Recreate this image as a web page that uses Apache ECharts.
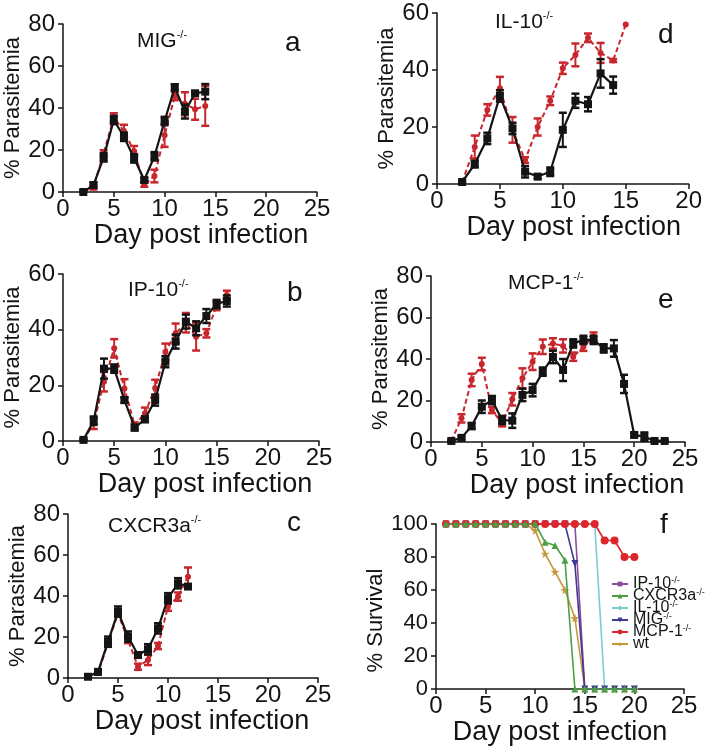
<!DOCTYPE html>
<html><head><meta charset="utf-8">
<script src="https://cdn.jsdelivr.net/npm/echarts@6/dist/echarts.min.js"></script>
<style>html,body{margin:0;padding:0;background:#fff}#c{width:705px;height:750px}</style>
</head><body><div id="c"></div>
<script>
// ---------- DATA ----------
// Panel a: MIG-/-
var aDaysKO = [2,3,4,5,6,7,8,9,10,11,12,13,14];
var aKO     = [0,3.3,16.5,34.3,26.3,16,5.7,17,33.8,49.8,38.3,47,47.8];
var aKOerr  = [0.5,1.2,2,2,2,2,1,2,2,1.5,3.3,1,3.6];
var aDaysWT = [2,3,4,5,6,7,8,9,10,11,12,13,14];
var aWT     = [0,2.2,18.4,35.5,29,19.4,3.5,7.6,27,45.7,42,39.4,41];
var aWTerr  = [0.5,1,1.5,2,3,2.5,1,3,5.5,2,5.5,5,9.5];
// Panel d: IL-10-/-
var dDaysKO = [2,3,4,5,6,7,8,9,10,11,12,13,14];
var dKO     = [0.7,7,16,30.9,19.5,4.3,2.6,4.3,19,29.2,28,38.8,34.7];
var dKOerr  = [0.5,1.2,2,2,2,2,0.8,1.5,6,2.5,2.5,5,3];
var dDaysWT = [2,3,4,5,6,7,8,9,10,11,12,13,14,15];
var dWT     = [0.7,13,26,33.6,19,8.4,20,29.2,40.6,45.3,51.3,46,43.3,56];
var dWTerr  = [0,4,2,4,4.5,1,3,1.5,2,4,1.5,3.5,0.5,0];
// Panel b: IP-10-/-
var bDaysKO = [2,3,4,5,6,7,8,9,10,11,12,13,14,15,16];
var bKO     = [0.4,7.3,26,26,14.7,4.8,7.8,14.7,28.5,35.7,42.9,40.5,44.9,49.2,50.3];
var bKOerr  = [0.4,1.5,3.6,1.5,1,1,1,2,2,2.5,2.5,2.5,2.5,1.5,2];
var bDaysWT = [2,3,4,5,6,7,8,9,10,11,12,13,14,15,16];
var bWT     = [0.4,6.3,21.3,33.3,18.9,5.7,10,19,32,38.7,42.5,37.5,38.7,48.5,52.5];
var bWTerr  = [0.4,2,3.5,3.3,3.3,1,2,3,3,3.5,3.5,5,1.5,1.5,1.5];
// Panel e: MCP-1-/-
var eDaysKO = [2,3,4,5,6,7,8,9,10,11,12,13,14,15,16,17,18,19,20,21,22,23];
var eKO     = [0.5,2,7.7,17,20.2,10.6,10.3,22.7,25,33.9,41,34.7,47.5,49.2,49.2,45.1,45.1,28,3.4,2.6,0.5,0.5];
var eKOerr  = [0.5,0.8,1.5,3,2,2,3.5,3,3,2,3,5.3,2,2,2,2,4,4.4,1,2,0.3,0.3];
var eDaysWT = [2,3,4,5,6,7,8,9,10,11,12,13,14,15,16];
var eWT     = [0.5,11.4,29.9,37.6,15.4,9,20.6,30.7,38.7,45.9,47.5,46.3,41.1,45.9,50.8];
var eWTerr  = [0.5,2,3,3,1.5,1.5,3,4.8,4,3.5,2.5,3.2,2,2,2];
// Panel c: CXCR3a-/-
var cDaysKO = [2,3,4,5,6,7,8,9,10,11,12];
var cKO     = [0.6,3,17.7,32.4,20.2,11.2,14,24.2,38.9,46.2,44.6];
var cKOerr  = [0.5,1,2.5,2.5,2.5,1,2.5,2.5,2.5,2.5,1];
var cDaysWT = [2,3,4,5,6,7,8,9,10,11,12];
var cWT     = [0.5,2.5,17,31.5,18.5,5.5,8.8,15.6,34.8,39.7,49.4];
var cWTerr  = [0.4,0.8,1.5,1.5,1.5,1.5,2.5,1.5,2,2,4.5];
// Panel f: survival
var fDays   = [1,2,3,4,5,6,7,8,9,10,11,12,13,14,15,16,17,18,19,20];
var fIP10   = [100,100,100,100,100,100,100,100,100,100,100,100,100,100,0,0,0,0,0,0];
var fCXCR3a = [100,100,100,100,100,100,100,100,100,100,89,87,78,0,0,0,0,0,0,0];
var fIL10   = [100,100,100,100,100,100,100,100,100,100,100,100,100,100,100,100,0,0,0,0];
var fMIG    = [100,100,100,100,100,100,100,100,100,100,100,100,100,76,0,0,0,0,0,0];
var fMCP1   = [100,100,100,100,100,100,100,100,100,100,100,100,100,100,100,100,90,90,80,80];
var fWT     = [100,100,100,100,100,100,100,100,100,96,82,71,60,43,0,0,0,0,0,0];
var fNames  = ['IP-10','CXCR3a','IL-10','MIG','MCP-1','wt'];

// ---------- STYLE ----------
var FONT = 'Liberation Sans, Arial, Helvetica, sans-serif';
var RED = '#c8262d', BLACK = '#141414';

function pairs(x, y){ return x.map(function(d,i){ return [d, y[i]]; }); }
function triples(x, y, e){ return x.map(function(d,i){ return [d, y[i], e[i]]; }); }

function errRender(color){
  return function(params, api){
    var x = api.value(0), y = api.value(1), e = api.value(2);
    if (!e) return null;
    var lo = Math.max(0, y - e);
    var top = api.coord([x, y + e]), bot = api.coord([x, lo]);
    var w = 4;
    var st = {stroke: color, lineWidth: 2};
    return {type:'group', children:[
      {type:'line', shape:{x1:top[0],y1:top[1],x2:bot[0],y2:bot[1]}, style:st},
      {type:'line', shape:{x1:top[0]-w,y1:top[1],x2:top[0]+w,y2:top[1]}, style:{stroke:color,lineWidth:2.5}},
      {type:'line', shape:{x1:bot[0]-w,y1:bot[1],x2:bot[0]+w,y2:bot[1]}, style:{stroke:color,lineWidth:2.5}}
    ]};
  };
}

var grids = [
  {left:63,  top:24,  width:254, height:168},  // a
  {left:437, top:13,  width:254, height:171},  // d
  {left:63,  top:274, width:256, height:167},  // b
  {left:431, top:276, width:254, height:166},  // e
  {left:68,  top:514, width:250, height:164},  // c
  {left:436, top:524, width:248, height:165}   // f
];
var xMax   = [25,20,25,25,25,25];
var yMax   = [80,60,60,80,80,100];
var xPad   = [22,22,28,38,18,0];
var xGap   = [26,25,23,22,26,24];
var yGap   = [28,33,28,30,33,35];
var yNames = ['% Parasitemia','% Parasitemia','% Parasitemia','% Parasitemia','% Parasitemia','% Survival'];
var yPad   = [[0,0,0,0],[0,0,0,0],[0,0,0,0],[0,0,0,0],[0,0,0,0],[0,28,0,0]];

var axisLine = {show:true, lineStyle:{color:BLACK, width:1.5}};
var axisTick = {show:true, length:5, lineStyle:{color:BLACK, width:1.5}};

var xAxes = grids.map(function(g,i){
  return {gridIndex:i, type:'value', min:0, max:xMax[i], interval:5,
    axisLine:axisLine, axisTick:axisTick, splitLine:{show:false},
    axisLabel:{fontSize:24, color:BLACK, fontFamily:FONT, margin:5},
    name:'Day post infection', nameLocation:'middle', nameGap:xGap[i],
    nameTextStyle:{fontSize:27, color:BLACK, fontFamily:FONT, padding:[0,0,0,xPad[i]]}};
});
var yAxes = grids.map(function(g,i){
  return {gridIndex:i, type:'value', min:0, max:yMax[i], interval:20,
    axisLine:axisLine, axisTick:axisTick, splitLine:{show:false},
    axisLabel:{fontSize:(i===5?22:24), color:BLACK, fontFamily:FONT, margin:8},
    name:yNames[i], nameLocation:'middle', nameGap:yGap[i],
    nameTextStyle:{fontSize:22, color:BLACK, fontFamily:FONT, padding:yPad[i]}};
});

function panelSeries(idx, dWTx, wt, wtErr, dKOx, ko, koErr){
  return [
    {type:'custom', xAxisIndex:idx, yAxisIndex:idx, renderItem:errRender(RED), data:triples(dWTx, wt, wtErr), z:2, silent:true},
    {type:'line', name:'wt'+idx, xAxisIndex:idx, yAxisIndex:idx, data:pairs(dWTx, wt), z:3,
      symbol:'circle', symbolSize:6, itemStyle:{color:RED}, lineStyle:{color:RED, width:2, type:[5,3]}},
    {type:'custom', xAxisIndex:idx, yAxisIndex:idx, renderItem:errRender(BLACK), data:triples(dKOx, ko, koErr), z:4, silent:true},
    {type:'line', name:'ko'+idx, xAxisIndex:idx, yAxisIndex:idx, data:pairs(dKOx, ko), z:5,
      symbol:'rect', symbolSize:8, itemStyle:{color:BLACK}, lineStyle:{color:BLACK, width:2.2}}
  ];
}

var series = [];
series = series.concat(panelSeries(0, aDaysWT, aWT, aWTerr, aDaysKO, aKO, aKOerr));
series = series.concat(panelSeries(1, dDaysWT, dWT, dWTerr, dDaysKO, dKO, dKOerr));
series = series.concat(panelSeries(2, bDaysWT, bWT, bWTerr, bDaysKO, bKO, bKOerr));
series = series.concat(panelSeries(3, eDaysWT, eWT, eWTerr, eDaysKO, eKO, eKOerr));
series = series.concat(panelSeries(4, cDaysWT, cWT, cWTerr, cDaysKO, cKO, cKOerr));

var STAR = 'path://M50,0 L61,35 L98,35 L68,57 L79,91 L50,70 L21,91 L32,57 L2,35 L39,35 Z';
var fDefs = [
  {name:'wt',     data:fWT,     color:'#c6983e', symbol:STAR,       size:9, rot:0},
  {name:'IL-10',  data:fIL10,   color:'#7ccbd0', symbol:'diamond',  size:7, rot:0},
  {name:'IP-10',  data:fIP10,   color:'#8e4a9e', symbol:'rect',     size:5, rot:0},
  {name:'MIG',    data:fMIG,    color:'#3f3a92', symbol:'triangle', size:7, rot:180},
  {name:'MCP-1',  data:fMCP1,   color:'#dc262c', symbol:'circle',   size:8, rot:0},
  {name:'CXCR3a', data:fCXCR3a, color:'#4c9f46', symbol:'triangle', size:7, rot:0}
];
fDefs.forEach(function(s, k){
  series.push({type:'line', name:s.name, xAxisIndex:5, yAxisIndex:5, data:pairs(fDays, s.data),
    symbol:s.symbol, symbolSize:s.size, symbolRotate:s.rot, z:3+k,
    itemStyle:{color:s.color}, lineStyle:{color:s.color, width:1.6}});
});

var supRich = {
  m:{fontSize:21, fontFamily:FONT, fontWeight:'normal', color:BLACK, lineHeight:24},
  s:{fontSize:11, fontFamily:FONT, fontWeight:'normal', color:BLACK, lineHeight:12, verticalAlign:'top'}
};
function lbl(txt, left, top){
  return {text:txt, left:left, top:top, padding:0, textStyle:{fontWeight:'normal', rich:supRich}};
}
function letter(ch, left, top){
  return {text:ch, left:left, top:top, padding:0, textStyle:{fontSize:28, fontWeight:'normal', color:BLACK, fontFamily:FONT, lineHeight:28}};
}

var option = {
  animation:false,
  backgroundColor:'#fff',
  title:[
    lbl('{m|MIG}{s|-/-}', 137, 29),
    lbl('{m|IL-10}{s|-/-}', 495, 10),
    lbl('{m|IP-10}{s|-/-}', 128, 278),
    lbl('{m|MCP-1}{s|-/-}', 508, 271),
    lbl('{m|CXCR3a}{s|-/-}', 108, 514),
    letter('a', 285, 29), letter('d', 658, 21), letter('b', 287, 279),
    letter('e', 658, 286), letter('c', 287, 509), letter('f', 660, 511)
  ],
  legend:{
    data:fNames, orient:'vertical', left:611, top:576, itemWidth:16, itemHeight:6, itemGap:-4,
    padding:0,
    formatter:function(n){ return n==='wt' ? '{n|wt}' : '{n|'+n+'}{s|-/-}'; },
    textStyle:{fontFamily:FONT, fontSize:16, lineHeight:15, color:BLACK, rich:{
      n:{fontSize:16, fontFamily:FONT, color:BLACK, lineHeight:15},
      s:{fontSize:9, fontFamily:FONT, color:BLACK, lineHeight:9, verticalAlign:'top'}
    }}
  },
  grid:grids,
  xAxis:xAxes,
  yAxis:yAxes,
  series:series
};
var chart = echarts.init(document.getElementById('c'), null, {renderer:'canvas'});
chart.setOption(option);
</script>
</body></html>
